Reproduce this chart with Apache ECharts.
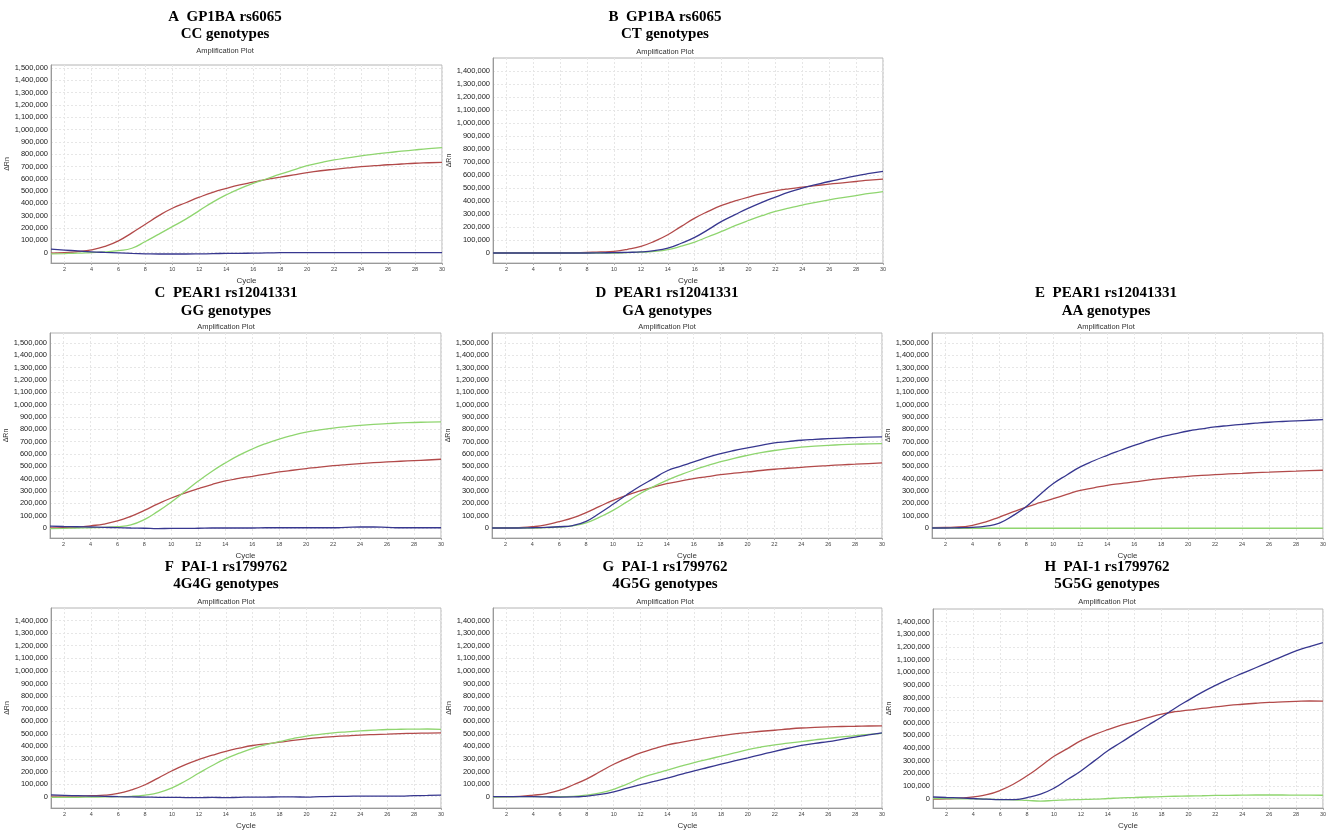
<!DOCTYPE html>
<html><head><meta charset="utf-8">
<script src="https://cdn.jsdelivr.net/npm/echarts@6/dist/echarts.min.js"></script>
<style>html,body{margin:0;padding:0;background:#fff}#c{width:1329px;height:831px}</style>
</head><body><div id="c"></div>
<script>
const cycles = [1,2,3,4,5,6,7,8,9,10,11,12,13,14,15,16,17,18,19,20,21,22,23,24,25,26,27,28,29,30];
const xTicks = [2,4,6,8,10,12,14,16,18,20,22,24,26,28,30];
const yTicks15 = [0,100000,200000,300000,400000,500000,600000,700000,800000,900000,1000000,1100000,1200000,1300000,1400000,1500000];
const yTicks14 = [0,100000,200000,300000,400000,500000,600000,700000,800000,900000,1000000,1100000,1200000,1300000,1400000];

const titlesLine1 = ["A  GP1BA rs6065","B  GP1BA rs6065","C  PEAR1 rs12041331","D  PEAR1 rs12041331","E  PEAR1 rs12041331","F  PAI-1 rs1799762","G  PAI-1 rs1799762","H  PAI-1 rs1799762"];
const titlesLine2 = ["CC genotypes","CT genotypes","GG genotypes","GA genotypes","AA genotypes","4G4G genotypes","4G5G genotypes","5G5G genotypes"];

// Panel A
const A_red   = [-5000,0,8000,22000,50000,95000,160000,230000,300000,360000,405000,450000,490000,522000,550000,572000,595000,613000,632000,650000,665000,677000,688000,698000,706000,714000,720000,726000,730000,734000];
const A_green = [-10000,-8000,-5000,0,5000,15000,35000,90000,150000,211000,272000,341000,410000,469000,520000,563000,600000,637000,672000,706000,731000,753000,770000,786000,800000,813000,824000,835000,845000,853000];
const A_blue  = [27000,20000,13000,6000,1000,-3000,-7000,-10000,-12000,-12000,-12000,-11000,-9000,-7000,-6000,-5000,-3000,-1000,0,0,0,0,0,0,0,0,0,0,0,0];
// Panel B
const B_red   = [0,0,0,0,0,0,2000,5000,8000,13000,28000,51000,90000,140000,205000,268000,320000,366000,400000,430000,456000,478000,494000,506000,518000,530000,540000,550000,560000,568000];
const B_blue  = [0,0,0,0,0,0,0,0,1000,3000,5000,8000,18000,38000,75000,120000,180000,243000,295000,345000,390000,430000,468000,499000,525000,550000,572000,594000,612000,628000];
const B_green = [0,0,0,0,0,0,0,0,0,0,3000,6000,12000,26000,52000,84000,125000,166000,210000,250000,287000,320000,346000,368000,390000,409000,426000,442000,458000,472000];
// Panel C
const C_red   = [0,2000,6000,18000,32000,57000,95000,143000,195000,243000,283000,319000,352000,381000,402000,419000,437000,454000,468000,481000,494000,505000,514000,522000,529000,535000,541000,546000,551000,557000];
const C_green = [-5000,-3000,0,2000,5000,10000,25000,68000,135000,211000,295000,380000,458000,527000,588000,640000,684000,721000,751000,776000,795000,810000,822000,832000,840000,846000,851000,855000,858000,860000];
const C_blue  = [15000,12000,10000,8000,5000,3000,0,-2000,-5000,-3000,-3000,-2000,0,0,0,0,2000,2000,2000,2000,2000,2000,5000,8000,8000,5000,2000,2000,2000,2000];
// Panel D
const D_red   = [0,0,3000,10000,25000,52000,82000,125000,175000,224000,265000,300000,332000,359000,380000,400000,416000,432000,444000,454000,466000,476000,484000,492000,500000,506000,512000,517000,522000,527000];
const D_blue  = [0,0,0,2000,5000,10000,20000,54000,120000,192000,268000,338000,400000,462000,500000,535000,572000,603000,628000,649000,670000,689000,700000,711000,718000,724000,729000,733000,736000,738000];
const D_green = [0,0,0,0,3000,8000,18000,42000,88000,143000,210000,278000,335000,386000,430000,470000,505000,537000,565000,589000,610000,628000,643000,655000,664000,670000,675000,679000,682000,684000];
// Panel E
const E_red   = [3000,5000,8000,22000,50000,89000,130000,170000,205000,238000,272000,305000,325000,346000,360000,373000,388000,400000,410000,419000,426000,432000,438000,443000,448000,452000,457000,461000,465000,468000];
const E_blue  = [0,0,2000,5000,15000,40000,100000,175000,270000,360000,430000,495000,545000,589000,630000,670000,705000,738000,762000,786000,803000,819000,830000,840000,849000,857000,863000,868000,873000,878000];
const E_green = [0,-1000,-2000,-2000,-2000,-2000,-2000,-2000,-2000,-2000,-2000,-2000,-2000,-2000,-2000,-2000,-2000,-2000,-2000,-2000,-2000,-2000,-2000,-2000,-2000,-2000,-2000,-2000,-2000,-2000];
// Panel F
const F_red   = [5000,5000,5000,8000,12000,26000,55000,95000,150000,206000,255000,296000,330000,361000,386000,407000,420000,433000,447000,459000,469000,477000,484000,490000,494000,497000,501000,504000,506000,508000];
const F_green = [-5000,-5000,-5000,-3000,-2000,0,3000,13000,32000,70000,125000,188000,248000,302000,346000,384000,414000,438000,462000,482000,496000,508000,516000,523000,529000,534000,536000,537000,538000,535000];
const F_blue  = [15000,10000,8000,5000,3000,0,-2000,-3000,-5000,-5000,-7000,-8000,-5000,-8000,-5000,-3000,-3000,-2000,-2000,-3000,0,2000,3000,5000,5000,5000,5000,8000,10000,13000];
// Panel G
const G_red   = [0,0,3000,12000,25000,52000,95000,142000,200000,258000,305000,348000,382000,412000,432000,451000,469000,485000,499000,510000,520000,528000,538000,546000,551000,555000,558000,560000,562000,563000];
const G_green = [-3000,-2000,0,0,0,0,3000,13000,30000,59000,100000,147000,182000,211000,242000,271000,297000,322000,348000,374000,395000,412000,425000,438000,451000,464000,475000,486000,495000,503000];
const G_blue  = [0,0,0,0,-2000,-3000,-2000,5000,18000,39000,68000,95000,121000,147000,177000,206000,232000,258000,284000,309000,335000,361000,385000,407000,424000,438000,456000,474000,492000,508000];
// Panel H
const H_red   = [-5000,-3000,2000,13000,30000,64000,115000,180000,255000,334000,395000,458000,505000,545000,580000,609000,640000,668000,687000,699000,713000,725000,737000,746000,754000,761000,765000,769000,772000,771000];
const H_blue  = [12000,8000,5000,0,-5000,-8000,-8000,8000,35000,82000,150000,218000,298000,378000,445000,514000,580000,645000,715000,779000,840000,895000,945000,990000,1035000,1080000,1125000,1168000,1203000,1234000];
const H_green = [0,0,-2000,-3000,-5000,-8000,-10000,-15000,-20000,-15000,-10000,-8000,-5000,0,5000,8000,12000,15000,18000,20000,22000,25000,25000,27000,28000,28000,28000,27000,27000,26000];

const panelSeries = [
  [A_red, A_green, A_blue],
  [B_red, B_green, B_blue],
  [C_red, C_green, C_blue],
  [D_red, D_green, D_blue],
  [E_red, E_green, E_blue],
  [F_red, F_green, F_blue],
  [G_red, G_green, G_blue],
  [H_red, H_green, H_blue]
];
const yTickSets = [yTicks15, yTicks14, yTicks15, yTicks15, yTicks15, yTicks14, yTicks14, yTicks14];

// layout (px)
const boxes = [
  {l:51, t:65, r:442, b:263, min:-85000, max:1525000},
  {l:493, t:58, r:883, b:263, min:-77000, max:1500000},
  {l:50, t:333, r:441, b:538, min:-81000, max:1580000},
  {l:492, t:333, r:882, b:538, min:-81000, max:1580000},
  {l:932, t:333, r:1323, b:538, min:-81000, max:1580000},
  {l:51, t:608, r:441, b:813, min:-90000, max:1500000},
  {l:493, t:608, r:882, b:813, min:-90000, max:1500000},
  {l:933, t:609, r:1323, b:813, min:-75000, max:1500000}
];
const titlePos = [
  {x:225, y1:17, y2:34, y3:51},
  {x:665, y1:17, y2:34, y3:52},
  {x:226, y1:293, y2:311, y3:327},
  {x:667, y1:293, y2:311, y3:327},
  {x:1106, y1:293, y2:311, y3:327},
  {x:226, y1:567, y2:584, y3:602},
  {x:665, y1:567, y2:584, y3:602},
  {x:1107, y1:567, y2:584, y3:602}
];
const colors = ['#b24a4a', '#8fd56f', '#37378f'];

const grids = [], xAxes = [], yAxes = [], series = [], graphics = [];
boxes.forEach((bx, i) => {
  grids.push({left: bx.l, top: bx.t, width: bx.r - bx.l, height: bx.b - bx.t, show: true, borderColor: '#b4b4b4', borderWidth: 1, backgroundColor: '#fff'});
  xAxes.push({
    type: 'value', gridIndex: i, min: 1, max: 30,
    name: 'Cycle', nameLocation: 'middle', nameGap: 14,
    nameTextStyle: {fontFamily: 'Liberation Sans', fontSize: 8, color: '#333'},
    axisLine: {show: true, onZero: false, lineStyle: {color: '#9a9a9a'}},
    axisTick: {show: true, length: 2, customValues: xTicks, lineStyle: {color: '#aaa'}},
    axisLabel: {customValues: xTicks, fontSize: 5.5, fontFamily: 'Liberation Sans', color: '#444', margin: 3},
    splitLine: {show: true, lineStyle: {color: '#e6e6e6', type: [2, 2], width: 1}}
  });
  yAxes.push({
    type: 'value', gridIndex: i, min: bx.min, max: bx.max,
    name: 'ΔRn', nameLocation: 'middle', nameGap: 36, nameRotate: 90,
    nameTextStyle: {fontFamily: 'Liberation Sans', fontSize: 7, color: '#333'},
    axisLine: {show: true, onZero: false, lineStyle: {color: '#9a9a9a'}},
    axisTick: {show: false, customValues: yTickSets[i]},
    axisLabel: {customValues: yTickSets[i], fontSize: 7.5, fontFamily: 'Liberation Sans', color: '#222', margin: 3,
      formatter: v => Number(v).toLocaleString('en-US')},
    splitLine: {show: true, lineStyle: {color: '#e6e6e6', type: [2, 2], width: 1}}
  });
  panelSeries[i].forEach((arr, k) => {
    series.push({
      type: 'line', xAxisIndex: i, yAxisIndex: i,
      data: cycles.map((c, j) => [c, arr[j]]),
      showSymbol: false, smooth: 0.5,
      lineStyle: {color: colors[k], width: 1.3},
      itemStyle: {color: colors[k]},
      silent: true, z: 3
    });
  });
  const tp = titlePos[i];
  graphics.push({type: 'text', x: tp.x, y: tp.y1, style: {text: titlesLine1[i], align: 'center', verticalAlign: 'middle', textAlign: 'center', textVerticalAlign: 'middle', font: 'bold 15px "Liberation Serif", "Times New Roman", serif', fill: '#000'}});
  graphics.push({type: 'text', x: tp.x, y: tp.y2, style: {text: titlesLine2[i], align: 'center', verticalAlign: 'middle', textAlign: 'center', textVerticalAlign: 'middle', font: 'bold 15px "Liberation Serif", "Times New Roman", serif', fill: '#000'}});
  graphics.push({type: 'text', x: tp.x, y: tp.y3, style: {text: 'Amplification Plot', align: 'center', verticalAlign: 'middle', textAlign: 'center', textVerticalAlign: 'middle', font: '7.5px "Liberation Sans", Arial, sans-serif', fill: '#333'}});
});

const chart = echarts.init(document.getElementById('c'), null, {renderer: 'canvas'});
chart.setOption({
  animation: false,
  backgroundColor: '#fff',
  grid: grids, xAxis: xAxes, yAxis: yAxes, series: series,
  graphic: graphics
});
</script></body></html>
